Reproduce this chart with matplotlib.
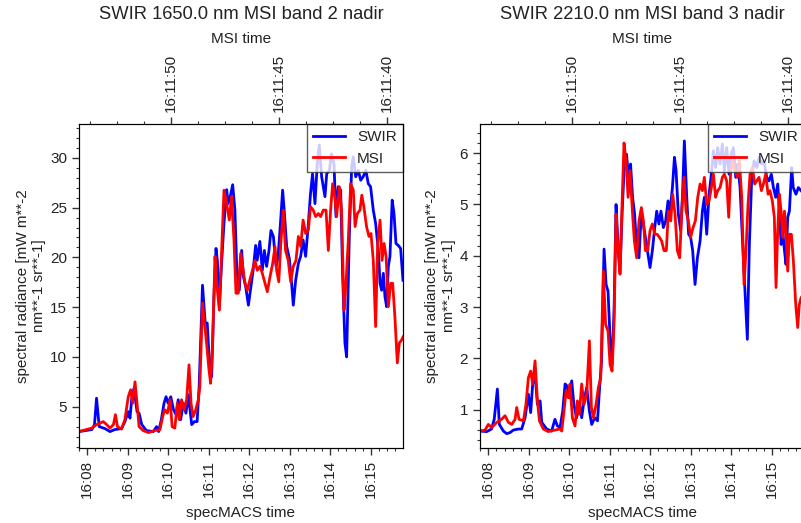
import numpy as np
import matplotlib.pyplot as plt
import matplotlib.dates as mdates
from matplotlib.ticker import AutoMinorLocator

plt.rcParams['font.family'] = ['Liberation Sans', 'DejaVu Sans']
plt.rcParams['font.size'] = 11
plt.rcParams['text.color'] = '#222222'
plt.rcParams['axes.labelcolor'] = '#222222'
plt.rcParams['xtick.labelcolor'] = '#222222'
plt.rcParams['ytick.labelcolor'] = '#222222'

# seconds after 16:07:47.7 (specMACS time)
swir_t_left = [0, 19, 23, 26, 30, 38.5, 46, 53, 63, 68, 73, 75.6, 78, 81.5, 86, 89, 93, 100, 110, 115,
               118, 122, 126, 129, 132, 136, 140, 144, 147, 150.6, 154.6, 158.5, 162, 167, 171, 175, 178, 183,
               187, 190, 193, 196.5, 200, 203, 205, 208, 211, 214.8, 218.8, 221, 224.7, 227.7, 231, 233.6,
               237.5, 241, 243.5, 247, 251, 254, 258, 261.7, 264, 268, 271.6, 274.6, 278, 281.5, 284.4, 288,
               292, 295, 298.8, 301.7, 304, 307.7, 311.6, 315, 317.5, 321, 325, 328.4, 332, 335.8, 339.8, 343,
               346, 349.6, 353, 356, 359.5, 364.4, 367, 370.9, 374, 377.8, 380.7, 384, 387.7, 390.6, 394,
               396.5, 400.5, 404, 406.4, 410, 413.8, 417.3, 421, 425, 428.6, 432, 436, 439.5, 443.5, 446,
               448.4, 450.9, 453.3, 455.8, 458.3, 460.7, 464, 466.7, 469.6, 473, 476.5, 480]
swir_left = [2.5, 2.7, 3.2, 5.85, 3.0, 2.8, 2.5, 2.7, 2.8, 3.5, 4.5, 3.85, 5.7, 6.85, 4.5, 4.35, 3.2, 2.6,
             2.5, 3.0, 2.5, 3.7, 5.35, 6.0, 5.35, 6.0, 4.7, 4.2, 5.7, 3.7, 5.35, 4.35, 6.2, 3.2, 3.5, 3.5,
             7.0, 17.2, 13.4, 13.4, 9.7, 8.0, 16.1, 20.9, 19.7, 15.05, 19.1, 23.4, 26.8, 25.4, 26.3, 27.3,
             24.75, 19.1, 16.7, 20.7, 18.1, 17.05, 15.2, 16.7, 18.7, 21.2, 19.7, 21.6, 18.7, 20.7, 19.1,
             20.7, 22.7, 22.1, 19.1, 20.1, 23.75, 26.75, 24.75, 21.1, 19.9, 17.4, 15.2, 17.7, 19.4, 20.1,
             21.75, 20.1, 23.4, 26.4, 28.4, 25.4, 29.4, 31.3, 28.1, 26.1, 28.4, 28.75, 30.4, 29.4, 24.1,
             27.1, 26.75, 18.1, 11.4, 10.0, 22.1, 29.1, 30.1, 28.1, 28.75, 27.75, 28.1, 28.75, 27.4, 27.1,
             24.75, 23.4, 20.7, 17.4, 16.7, 18.4, 16.05, 15.05, 19.1, 20.1, 25.75, 24.4, 21.4, 21.2, 20.9,
             17.7]
msi_t_left = [0, 11, 19, 26, 31, 36, 41, 46, 51, 54, 57, 63, 68, 73, 76.5, 79.5, 83, 86, 89, 95, 103,
              112.6, 120, 124, 127, 131, 135, 138, 142, 145.7, 148.6, 152, 155.6, 159.5, 163, 166, 169, 173,
              176.8, 179, 183, 187, 189, 192.6, 195, 198, 201.5, 204, 208, 211, 214.8, 218.8, 222.7, 226,
              229.6, 232.6, 236, 239.5, 242.5, 246, 249.4, 253, 257, 260.7, 264, 268, 271.6, 275.6, 279,
              283, 287, 290.4, 292.8, 296, 299, 302.7, 306, 310, 313.6, 317.5, 321.5, 325, 328.4, 332,
              335.8, 339.8, 343, 347, 350.6, 354.6, 358, 362, 366, 369.4, 372.8, 375.8, 379, 381.7, 385.7,
              389, 392.6, 395.6, 399, 402.5, 406.4, 409, 412.3, 416.3, 419, 422, 426, 429.6, 432.6, 436,
              439.5, 442.5, 446, 449, 452, 455, 458.3, 461.7, 464.7, 468, 471.6, 474.6, 478, 480]
msi_left = [2.5, 2.7, 2.85, 3.2, 3.35, 3.5, 3.2, 2.85, 3.2, 4.2, 3.0, 2.75, 3.7, 6.0, 6.7, 5.35, 7.5,
            5.35, 3.0, 2.6, 2.4, 2.6, 2.7, 4.0, 4.7, 4.35, 5.7, 3.0, 2.85, 5.35, 3.7, 5.7, 4.7, 5.7, 9.2,
            5.35, 4.0, 4.7, 5.7, 7.0, 15.4, 12.7, 11.4, 8.7, 7.35, 11.4, 20.1, 17.4, 14.7, 20.1, 26.75,
            25.4, 23.75, 26.1, 21.75, 16.4, 16.4, 20.4, 19.1, 17.4, 16.7, 17.7, 18.7, 19.7, 18.7, 19.1,
            18.4, 17.4, 16.55, 18.05, 19.4, 21.1, 18.7, 17.55, 21.4, 24.75, 20.7, 19.7, 17.55, 19.1, 19.7,
            22.1, 21.1, 23.75, 22.4, 22.75, 25.1, 24.75, 24.1, 24.4, 24.1, 24.75, 24.75, 20.7, 24.75,
            27.4, 26.1, 24.1, 27.1, 24.75, 14.7, 17.4, 21.75, 27.4, 26.75, 23.1, 24.4, 24.75, 26.25,
            25.1, 23.1, 22.1, 22.4, 19.7, 13.05, 21.4, 23.75, 19.7, 21.4, 20.1, 15.05, 17.4, 17.4, 14.05,
            9.4, 11.4, 11.7, 12.0]

swir_t_right = [0, 10, 17, 21, 25.7, 28.6, 34.6, 39.5, 44.4, 49.4, 56.8, 61.7, 66.7, 71.6, 75, 78, 81.5,
                85, 89, 91.4, 98.8, 106, 111, 114.6, 118.5, 122.5, 126, 129, 132, 135.8, 139, 143, 147.6,
                150.6, 154, 158, 162, 165.4, 170, 174, 176.8, 180, 183.7, 186.7, 189.6, 192.6, 195.6, 198.5,
                201.5, 204.4, 207.4, 210.4, 213.8, 217, 220, 223, 226, 229, 232, 235.5, 239, 242, 245, 248,
                251.8, 255.3, 258.8, 261.7, 265, 268, 271.6, 275, 278.5, 281.5, 285, 288, 290.4, 293.8,
                297.3, 300, 302.7, 306, 309, 312, 315, 318.5, 322, 326, 329.4, 332.3, 335.8, 339.3, 342.2,
                345.7, 349, 352, 355.6, 359, 362, 365.4, 368.9, 371.9, 375.3, 378.8, 381.7, 385.2, 388.6,
                391.6, 394, 396, 399, 402.5, 406, 410, 413.3, 417.3, 420.7, 424.7, 428, 431.6, 434.6, 438,
                441, 443.5, 446, 448.4, 451, 453.3, 455.8, 458.3, 461.7, 464, 468, 471.6, 475.6, 480]
swir_right = [0.58, 0.57, 0.62, 0.81, 1.4, 0.71, 0.58, 0.53, 0.55, 0.6, 0.62, 0.62, 0.84, 1.3, 0.94, 1.5,
              1.69, 1.1, 1.17, 0.75, 0.62, 0.58, 0.81, 0.68, 0.65, 0.97, 1.5, 1.46, 1.23, 1.56, 1.1, 0.84,
              1.1, 0.84, 1.17, 1.43, 0.97, 0.71, 0.84, 0.78, 1.36, 1.95, 4.13, 3.44, 3.31, 2.4, 1.88, 2.92,
              5.0, 4.22, 3.7, 4.81, 5.79, 5.98, 5.53, 5.79, 5.14, 4.81, 4.16, 3.96, 4.87, 4.62, 4.36, 4.1,
              3.77, 4.1, 4.55, 4.87, 4.62, 4.87, 4.55, 4.68, 5.07, 4.87, 5.33, 5.92, 5.66, 4.81, 4.49, 5.2,
              6.24, 5.2, 4.42, 4.36, 4.1, 3.44, 3.96, 4.29, 4.87, 5.14, 4.42, 5.2, 5.53, 6.05, 5.72, 6.11,
              5.79, 6.18, 5.66, 6.11, 5.59, 5.98, 6.11, 5.53, 5.79, 5.33, 4.36, 3.57, 2.92, 2.37, 4.22,
              5.53, 5.85, 5.72, 5.92, 5.79, 5.85, 5.53, 5.46, 5.59, 5.33, 5.14, 5.4, 4.87, 4.22, 4.49, 4.1,
              3.83, 4.75, 4.87, 5.72, 5.33, 5.2, 5.33, 5.27, 5.2]
msi_t_right = [0, 7.4, 12.3, 17.3, 24.7, 32, 37, 42, 47, 51.9, 54.3, 57.8, 64.2, 68, 71.6, 75, 78, 81.5,
               85, 88, 93.8, 101, 111, 118.5, 121, 124.4, 127.4, 130.9, 133.3, 136.8, 140.7, 144.2, 147,
               150.6, 154, 158, 162, 165, 168, 171.9, 175.3, 178.8, 182.7, 186, 189.6, 192.6, 195.6, 198.5,
               201.5, 204.4, 207.4, 210.4, 213.3, 216.3, 219.3, 222.2, 225.7, 228.6, 232, 235.5, 239, 242,
               245, 248.4, 251.8, 255.3, 258.8, 262.2, 265.7, 269, 272.6, 276, 279, 282.5, 285.4, 288.9,
               292.3, 295.8, 298.8, 302.2, 305.2, 308.6, 312, 315.6, 319, 322.5, 326, 329.4, 332.3, 335.8,
               339.3, 342.7, 345.7, 349, 352, 355.6, 359, 362, 365.4, 368.4, 371.4, 374.3, 377.8, 381.2,
               384.2, 387.7, 391.1, 394, 397, 400, 403.5, 406.9, 409.9, 413.3, 416.8, 419.8, 423.2, 426.7,
               429.6, 433, 436, 438.5, 441, 443.5, 446, 448.4, 451, 453.3, 455.8, 458.3, 461.2, 464.2,
               467.7, 470.6, 473, 475.6, 479]
msi_right = [0.58, 0.6, 0.71, 0.65, 0.75, 0.81, 0.88, 0.75, 0.71, 0.81, 1.04, 0.81, 0.78, 1.1, 1.62, 1.75,
             1.5, 1.95, 1.17, 0.78, 0.62, 0.57, 0.6, 0.62, 0.58, 0.97, 1.36, 1.23, 1.5, 0.84, 0.68, 1.17,
             0.91, 1.5, 1.1, 1.3, 2.34, 1.04, 0.84, 1.1, 1.43, 1.62, 3.7, 2.66, 2.53, 1.88, 1.75, 2.66,
             4.81, 4.1, 3.64, 5.0, 6.2, 5.85, 5.14, 5.66, 4.87, 4.29, 3.96, 4.68, 4.94, 4.68, 4.1, 4.1,
             4.49, 4.62, 4.42, 4.42, 4.36, 4.29, 4.1, 4.1, 4.87, 4.68, 5.2, 4.81, 4.1, 3.96, 4.87, 5.53,
             4.87, 4.68, 4.36, 4.55, 4.68, 5.14, 5.4, 5.27, 5.53, 5.0, 5.07, 5.33, 5.59, 5.14, 5.27, 5.33,
             5.53, 5.59, 5.46, 4.75, 5.66, 5.85, 5.66, 5.53, 5.85, 5.14, 3.44, 4.1, 5.0, 5.59, 5.72, 5.4,
             5.46, 5.53, 5.27, 5.4, 5.59, 5.2, 5.27, 5.07, 4.75, 3.38, 4.49, 5.2, 4.87, 4.36, 4.87, 4.42,
             3.7, 4.42, 4.42, 3.9, 3.05, 2.6, 3.05, 3.18, 3.25]

titles = ['SWIR 1650.0 nm MSI band 2 nadir', 'SWIR 2210.0 nm MSI band 3 nadir']
ylims = [(0.85, 33.4), (0.25, 6.57)]
ymajor = [5, 1]

t0 = np.datetime64('2018-07-13T16:07:47.700')
msi_left_edge = np.datetime64('2018-07-13T16:11:54.270')
msi_right_edge = np.datetime64('2018-07-13T16:11:39.240')


def to_time(sec):
    return t0 + (np.array(sec) * 1000).astype('timedelta64[ms]')


fig = plt.figure(figsize=(8.01, 5.23), dpi=100)
axes = [fig.add_axes([0.0986, 0.1434, 0.4045, 0.6195]),
        fig.add_axes([0.5993, 0.1434, 0.4045, 0.6195])]
panels = [(swir_t_left, swir_left, msi_t_left, msi_left),
          (swir_t_right, swir_right, msi_t_right, msi_right)]

for i, ax in enumerate(axes):
    st, sv, mt, mv = panels[i]
    ax.plot(to_time(st), sv, color='#0000ff', lw=2, label='SWIR')
    ax.plot(to_time(mt), mv, color='#ff0000', lw=2, label='MSI')
    ax.set_xlim(to_time(0), to_time(480))
    ax.set_ylim(*ylims[i])
    ax.xaxis.set_major_locator(mdates.MinuteLocator())
    ax.xaxis.set_major_formatter(mdates.DateFormatter('%H:%M'))
    ax.xaxis.set_minor_locator(AutoMinorLocator(5))
    ax.yaxis.set_major_locator(plt.MultipleLocator(ymajor[i]))
    ax.yaxis.set_minor_locator(AutoMinorLocator(5))
    ax.tick_params(axis='x', labelrotation=90)
    ax.tick_params(which='major', length=5, width=1, direction='out', color='#333333')
    ax.tick_params(which='minor', length=2.5, width=0.8, direction='out', color='#333333')
    ax.set_xlabel('specMACS time', labelpad=6)
    ax.set_ylabel('spectral radiance [mW m**-2\nnm**-1 sr**-1]', labelpad=3)
    for sp in ax.spines.values():
        sp.set_color('#333333')
    leg = ax.legend(loc='upper right', borderaxespad=0, fancybox=False, framealpha=0.8,
                    handlelength=2.1, edgecolor='#333333')
    leg.get_frame().set_linewidth(1)

    top = ax.twiny()
    top.set_xlim(msi_left_edge, msi_right_edge)
    top.xaxis.set_major_locator(mdates.SecondLocator(bysecond=range(0, 60, 5)))
    top.xaxis.set_major_formatter(mdates.DateFormatter('%H:%M:%S'))
    top.xaxis.set_minor_locator(AutoMinorLocator(4))
    top.tick_params(axis='x', labelrotation=90)
    top.tick_params(which='major', length=5, width=1, direction='out', color='#333333')
    top.tick_params(which='minor', length=2.5, width=0.8, direction='out', color='#333333')
    top.set_xlabel('MSI time', labelpad=8)
    top.set_title(titles[i], pad=9)

fig.savefig('out.png', dpi=100)
